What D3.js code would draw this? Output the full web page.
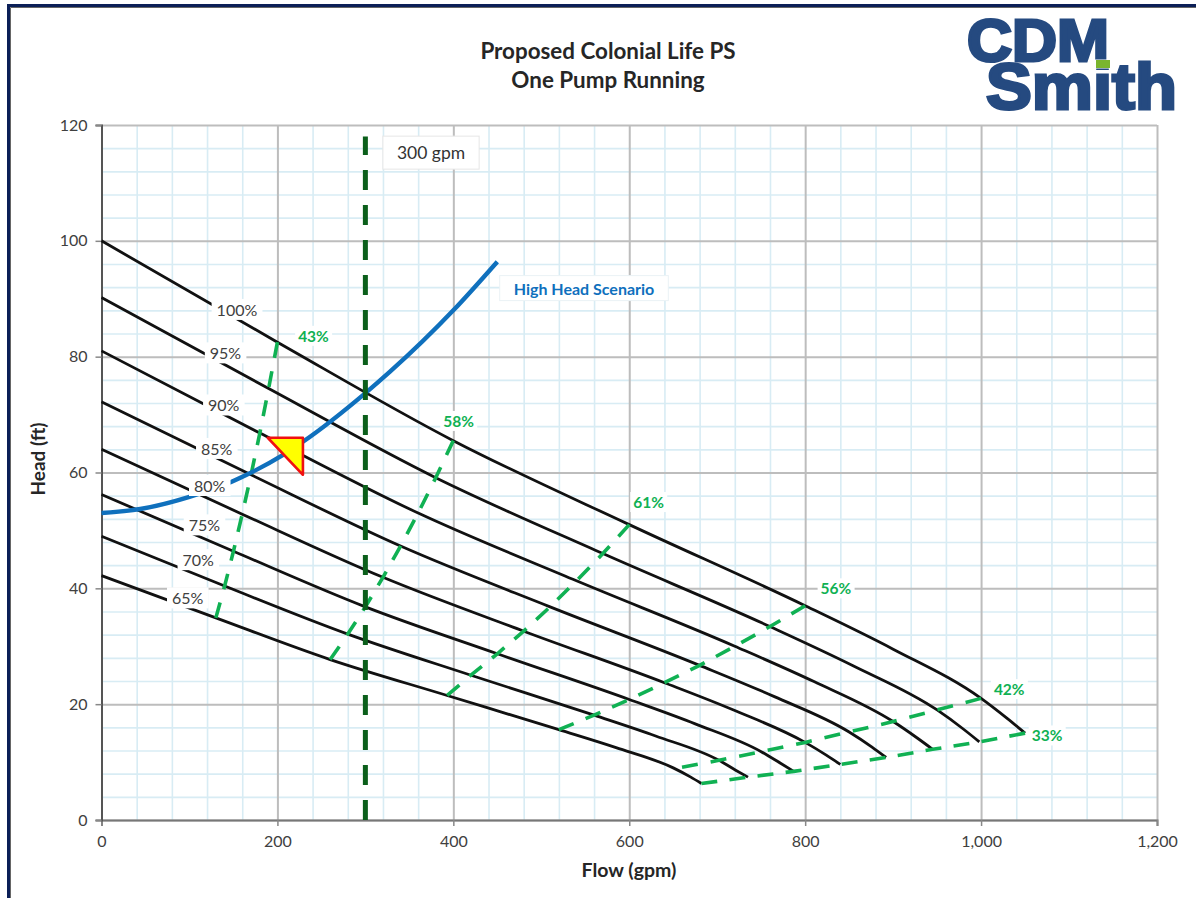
<!DOCTYPE html>
<html><head><meta charset="utf-8">
<script src="https://cdn.jsdelivr.net/npm/d3@7"></script>
<style>
html,body{margin:0;padding:0;background:#fff}
svg{display:block}
text{font-family:Lato,"Open Sans",sans-serif}
</style></head><body>
<svg id="c" width="1196" height="898"></svg>
<script>
const titleLines = ["Proposed Colonial Life PS","One Pump Running"];
const xTicks = [0,200,400,600,800,1000,1200];
const yTicks = [0,20,40,60,80,100,120];
const speedLabels = ["100%","95%","90%","85%","80%","75%","70%","65%"];
const flow100 = [0,200,400,600,800,900,1000,1030,1050];
const head100 = [100,82.5,65.5,51,37,29.5,21,17.5,15];
const flow95  = [0,190,380,570,760,855,950,979,998];
const head95  = [90.2,74.5,59.1,46,33.4,26.6,19,15.8,13.5];
const flow90  = [0,180,360,540,720,810,900,927,945];
const head90  = [81,66.8,53,41.3,30,23.9,17,14.2,12.2];
const flow85  = [0,170,340,510,680,765,850,876,892];
const head85  = [72.2,59.6,47.3,36.8,26.7,21.3,15.2,12.6,10.8];
const flow80  = [0,160,320,480,640,720,800,824,840];
const head80  = [64,52.8,41.9,32.6,23.7,18.9,13.4,11.2,9.6];
const flow75  = [0,150,300,450,600,675,750,772,787];
const head75  = [56.2,46.4,36.8,28.7,20.8,16.6,11.8,9.8,8.4];
const flow70  = [0,140,280,420,560,630,702,721,735];
const head70  = [49,40.4,32.1,25,18.1,14.5,10.3,8.6,7.4];
const flow65  = [0,130,260,393,520,585,650,670,682];
const head65  = [42.2,34.9,27.7,21.5,15.6,12.5,9,7.4,6.3];
const effLabels = ["43%","58%","61%","56%","42%","33%"];
const effIndex = [1,2,3,4,6,8];
const eff42End = [660,9.1];
const systemFlow = [0,44,100,148,165,206,229,300,328,400,450];
const systemHead = [53,53.7,55.8,58.4,59.6,63,65.3,73.7,77.4,88,96.4];
const dutyFlow = [189,229,229];
const dutyHead = [66,66,59.6];
const refFlow = [300,300];
const refHead = [0,118];
const speedLabelFlow = [154,141,139,131,123,117,110,98];
const speedLabelHead = [88,80.5,71.5,64,57.6,50.8,44.8,38.2];
const effLabelFlow = [241,406,622,835,1032,1075];
const effLabelHead = [83.5,68.8,54.8,39.9,22.5,14.5];

const svg = d3.select("#c");
const m = {l:101.5,r:1157,t:125,b:820};
const x = d3.scaleLinear().domain([0,1200]).range([m.l,m.r]);
const y = d3.scaleLinear().domain([0,120]).range([m.b,m.t]);

// frame
svg.append("rect").attr("x",8.5).attr("y",5.5).attr("width",1200).attr("height",1000)
  .attr("fill","#fff").attr("stroke","#0b1f57").attr("stroke-width",3);
svg.append("path").attr("d","M10.5 900V7.5H1196").attr("fill","none").attr("stroke","#666").attr("stroke-width",1);

// minor grid
const minorX = d3.range(0,1201,40).filter(v=>v%200!==0);
const minorY = d3.range(0,121,4).filter(v=>v%20!==0);
const gm = svg.append("g");
gm.append("g").attr("transform",`translate(0,${m.b})`)
  .call(d3.axisBottom(x).tickValues(minorX).tickSize(-(m.b-m.t)).tickFormat(""))
  .call(g=>g.select(".domain").remove());
gm.append("g").attr("transform",`translate(${m.l},0)`)
  .call(d3.axisLeft(y).tickValues(minorY).tickSize(-(m.r-m.l)).tickFormat(""))
  .call(g=>g.select(".domain").remove());
gm.selectAll("line").attr("stroke","#d8ecf4").attr("stroke-width",1.6);

// major grid
const gM = svg.append("g");
gM.append("g").attr("transform",`translate(0,${m.b})`)
  .call(d3.axisBottom(x).tickValues(xTicks).tickSize(-(m.b-m.t)).tickFormat(""))
  .call(g=>g.select(".domain").remove());
gM.append("g").attr("transform",`translate(${m.l},0)`)
  .call(d3.axisLeft(y).tickValues(yTicks).tickSize(-(m.r-m.l)).tickFormat(""))
  .call(g=>g.select(".domain").remove());
gM.selectAll("line").attr("stroke","#bdbdbd").attr("stroke-width",2);

// axes
const ax = svg.append("g").attr("transform",`translate(0,${m.b})`)
  .call(d3.axisBottom(x).tickValues(xTicks).tickSize(6).tickPadding(10).tickFormat(d3.format(",")));
const ay = svg.append("g").attr("transform",`translate(${m.l},0)`)
  .call(d3.axisLeft(y).tickValues(yTicks).tickSize(6).tickPadding(8));
ax.selectAll("text").attr("font-size",16).attr("fill","#404040").style("font-family","Lato");
ay.selectAll("text").attr("font-size",16).attr("fill","#404040").style("font-family","Lato");
ax.selectAll("line").attr("stroke","#888").attr("stroke-width",1.5);
ay.selectAll("line").attr("stroke","#888").attr("stroke-width",1.5);
ax.select(".domain").attr("stroke","#777").attr("stroke-width",2);
ay.select(".domain").attr("stroke","#555").attr("stroke-width",2);

const line = d3.line().x(d=>x(d[0])).y(d=>y(d[1])).curve(d3.curveMonotoneX);
const straight = d3.line().x(d=>x(d[0])).y(d=>y(d[1]));
const zip = (a,b)=>a.map((v,i)=>[v,b[i]]);

// pump curves
const flows = [flow100,flow95,flow90,flow85,flow80,flow75,flow70,flow65];
const heads = [head100,head95,head90,head85,head80,head75,head70,head65];
const curves = flows.map((f,i)=>zip(f,heads[i]));
svg.append("g").selectAll("path").data(curves).join("path")
  .attr("d",line).attr("fill","none").attr("stroke","#111").attr("stroke-width",2.8);

// efficiency iso-lines, through matching points of each speed curve
svg.append("g").selectAll("path").data(effIndex).join("path")
  .attr("d",k=>{
    const pts = curves.map(c=>c[k]);
    if(k===6) pts[pts.length-1] = eff42End;
    return straight(pts);
  })
  .attr("fill","none").attr("stroke","#10b153").attr("stroke-width",3.6)
  .each(function(){
    const L = this.getTotalLength(), dash = 16;
    const n = Math.max(1,Math.round((L-dash)/29));
    d3.select(this).attr("stroke-dasharray",`${dash} ${(L-dash)/n-dash}`);
  });

// system curve
svg.append("path").datum(zip(systemFlow,systemHead)).attr("d",line)
  .attr("fill","none").attr("stroke","#0f70bd").attr("stroke-width",4.4);

// 300 gpm reference
svg.append("path").datum(zip(refFlow,refHead)).attr("d",straight)
  .attr("fill","none").attr("stroke","#0b5f1b").attr("stroke-width",5).attr("stroke-dasharray","20 15");

// duty point
svg.append("path").datum(zip(dutyFlow,dutyHead)).attr("d",d=>straight(d)+"Z")
  .attr("fill","#ffff00").attr("stroke","#f01010").attr("stroke-width",2.6).attr("stroke-linejoin","round");

function boxed(px,py,txt,o){
  const g = svg.append("g");
  const t = g.append("text").attr("x",px).attr("y",py).attr("text-anchor","middle").attr("dy","0.35em")
    .attr("font-size",o.size).attr("font-weight",o.weight||400).attr("fill",o.color).text(txt);
  const b = t.node().getBBox();
  g.insert("rect","text").attr("x",b.x-(o.padX||4)).attr("y",b.y-(o.padY||1)).attr("width",b.width+2*(o.padX||4)).attr("height",b.height+2*(o.padY||1))
    .attr("fill","#fff").attr("stroke",o.border||"none");
}
speedLabels.forEach((s,i)=>boxed(x(speedLabelFlow[i]),y(speedLabelHead[i]),s,{size:16,color:"#404040",padX:5,padY:1}));
effLabels.forEach((s,i)=>boxed(x(effLabelFlow[i]),y(effLabelHead[i]),s,{size:15.5,weight:700,color:"#10b153",padX:3,padY:0}));
boxed(431,153,"300 gpm",{size:17.5,color:"#333",padX:14,padY:6,border:"#e6e6e6"});
boxed(584,289,"High Head Scenario",{size:16,weight:700,color:"#0f70bd",padX:14,padY:3,border:"#eaf2f6"});

// titles
svg.append("g").selectAll("text").data(titleLines).join("text")
  .attr("x",608).attr("y",(d,i)=>58.5+i*29).attr("text-anchor","middle")
  .attr("font-size",22.4).attr("font-weight",700).attr("fill","#262626").text(d=>d);
svg.append("text").attr("x",629).attr("y",877).attr("text-anchor","middle")
  .attr("font-size",19.5).attr("font-weight",700).attr("fill","#262626").text("Flow (gpm)");
svg.append("text").attr("transform","translate(45,459) rotate(-90)").attr("text-anchor","middle")
  .attr("font-size",19).attr("font-weight",700).attr("fill","#262626").text("Head (ft)");

// logo
const logo = svg.append("g").attr("fill","#254a80").attr("stroke","#254a80").attr("stroke-width",3)
  .style("font-weight",700);
logo.append("text").attr("x",967).attr("y",60.5).attr("font-size",59).attr("textLength",142).attr("lengthAdjust","spacingAndGlyphs")
  .style("font-family","'Liberation Sans'").text("CDM");
logo.append("text").attr("x",986).attr("y",108.5).attr("font-size",65).attr("textLength",191).attr("lengthAdjust","spacingAndGlyphs")
  .style("font-family","'Liberation Sans'").text("Smith");
svg.append("rect").attr("x",1094).attr("y",59.5).attr("width",17).attr("height",9).attr("fill","#fff");
svg.append("rect").attr("x",1096).attr("y",60).attr("width",14).attr("height",8).attr("fill","#7ab52e");
</script>
</body></html>
